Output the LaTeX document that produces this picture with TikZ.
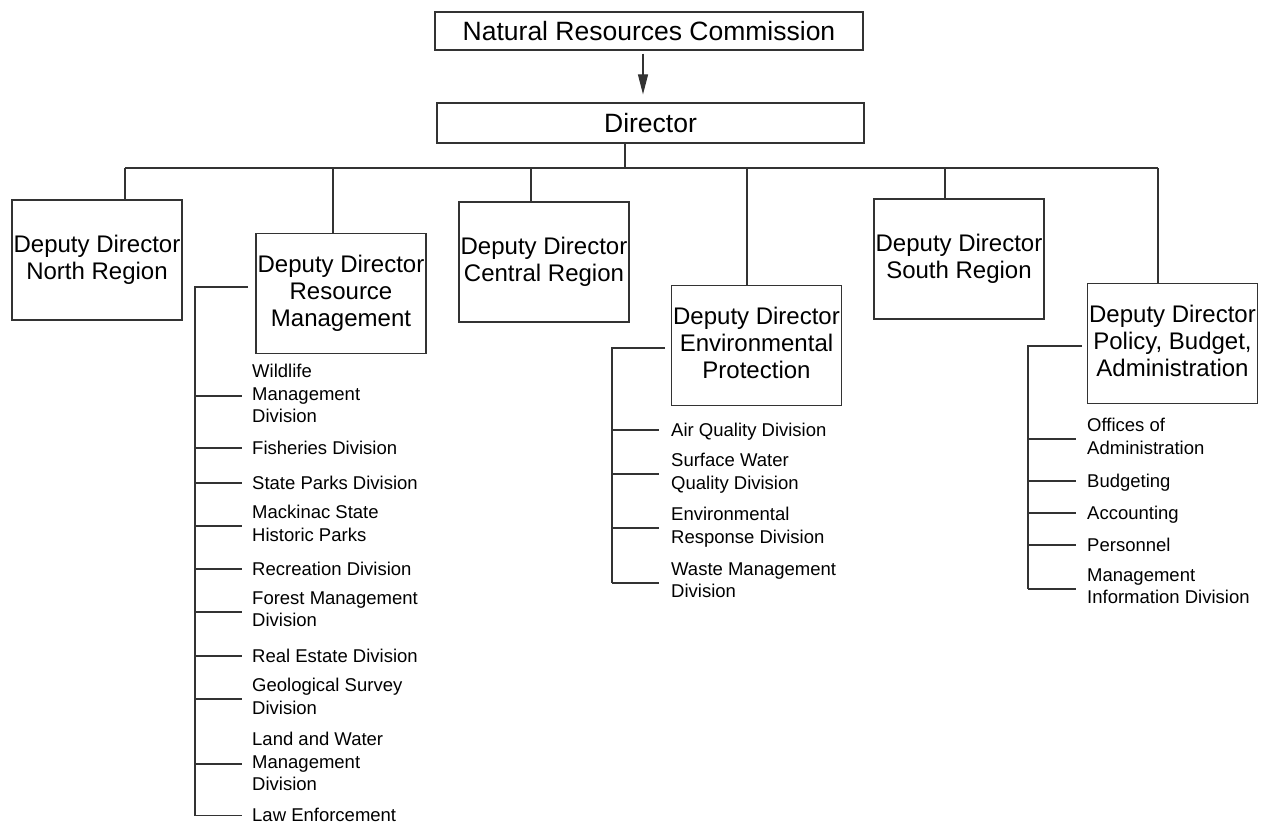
\documentclass[tikz,border=0pt]{standalone}
\usepackage{fontspec}
\setmainfont{Liberation Sans}
\usetikzlibrary{arrows.meta}
\newcommand\smstrut{\rule[-5.25pt]{0pt}{22.5pt}}
\newcommand\bgstrut{\rule[-5pt]{0pt}{27pt}}
\begin{document}
\begin{tikzpicture}[x=1pt,y=-1pt,
  line/.style={draw=black!80,line width=1.2pt},
  topbox/.style={draw=black!80,line width=1.2pt,inner sep=0pt,font=\fontsize{26.5}{30}\selectfont},
  depbox/.style={draw=black!80,line width=1.2pt,inner sep=0pt,minimum width=170pt,minimum height=120pt,
    align=center,font=\fontsize{24}{27}\selectfont,execute at begin node=\bgstrut,execute at end node=\bgstrut},
  div/.style={anchor=west,inner sep=0pt,align=left,font=\fontsize{18.5}{22.5}\selectfont,
    execute at begin node=\smstrut,execute at end node=\smstrut}
]
\useasboundingbox (0,0) rectangle (1263,824);
\clip (0,0) rectangle (1263,824);

% top
\node[topbox,minimum width=428pt,minimum height=38pt] (nrc) at (649,31) {Natural Resources Commission};
\node[topbox,minimum width=427pt,minimum height=40pt] (dir) at (650.5,123) {Director};
\coordinate (ax) at (643,0);
\draw[line,-{Triangle[length=20pt,width=10pt]}] ([yshift=-3pt]nrc.south -| ax) -- ([yshift=8pt]dir.north -| ax);

% deputies
\node[depbox] (nr) at (97,260) {Deputy Director\\North Region};
\node[depbox] (rm) at (341,293.5) {Deputy Director\\Resource\\Management};
\node[depbox] (cr) at (544,262) {Deputy Director\\Central Region};
\node[depbox] (ep) at (756.5,345.5) {Deputy Director\\Environmental\\Protection};
\node[depbox] (sr) at (959,259) {Deputy Director\\South Region};
\node[depbox] (pb) at (1172.5,343.5) {Deputy Director\\Policy, Budget,\\Administration};

% bus
\coordinate (bd) at (625,168);
\coordinate (d1) at (125,168);
\coordinate (d2) at (333,168);
\coordinate (d3) at (531,168);
\coordinate (d4) at (747,168);
\coordinate (d5) at (945,168);
\coordinate (d6) at (1158,168);
\draw[line] (dir.south -| bd) -- (bd);
\draw[line] (d1) -- (d6);
\foreach \d/\n in {d1/nr,d2/rm,d3/cr,d4/ep,d5/sr,d6/pb}
  \draw[line] (\d) -- (\d |- \n.north);

% resource management divisions
\node[div] (w1) at (252,396) {Wildlife\\Management\\Division};
\node[div] (w2) at (252,448) {Fisheries Division};
\node[div] (w3) at (252,483) {State Parks Division};
\node[div] (w4) at (252,526) {Mackinac State\\Historic Parks};
\node[div] (w5) at (252,569) {Recreation Division};
\node[div] (w6) at (252,612) {Forest Management\\Division};
\node[div] (w7) at (252,656) {Real Estate Division};
\node[div] (w8) at (252,699) {Geological Survey\\Division};
\node[div] (w9) at (252,764) {Land and Water\\Management\\Division};
\node[div] (w10) at (252,815.5) {Law Enforcement};
\coordinate (rs) at (248,287);
\coordinate (rb) at (195,287);
\draw[line] (rs) -- (rb) -- (rb |- w10.west);
\foreach \w in {w1,w2,w3,w4,w5,w6,w7,w8,w9,w10}
  \draw[line] (rb |- \w.west) -- ([xshift=-10pt]\w.west);

% environmental protection divisions
\node[div] (e1) at (671,430) {Air Quality Division};
\node[div] (e2) at (671,474) {Surface Water\\Quality Division};
\node[div] (e3) at (671,528) {Environmental\\Response Division};
\node[div] (e4) at (671,583) {Waste Management\\Division};
\coordinate (es) at (665,348);
\coordinate (eb) at (612,348);
\draw[line] (es) -- (eb) -- (eb |- e4.west);
\foreach \w in {e1,e2,e3,e4}
  \draw[line] (eb |- \w.west) -- ([xshift=-12pt]\w.west);

% policy divisions
\node[div] (p1) at (1087,439) {Offices of\\Administration};
\node[div] (p2) at (1087,481) {Budgeting};
\node[div] (p3) at (1087,513) {Accounting};
\node[div] (p4) at (1087,545) {Personnel};
\node[div] (p5) at (1087,589) {Management\\Information Division};
\coordinate (ps) at (1082,346);
\coordinate (pk) at (1028,346);
\draw[line] (ps) -- (pk) -- (pk |- p5.west);
\foreach \w in {p1,p2,p3,p4,p5}
  \draw[line] (pk |- \w.west) -- ([xshift=-11pt]\w.west);
\end{tikzpicture}
\end{document}
